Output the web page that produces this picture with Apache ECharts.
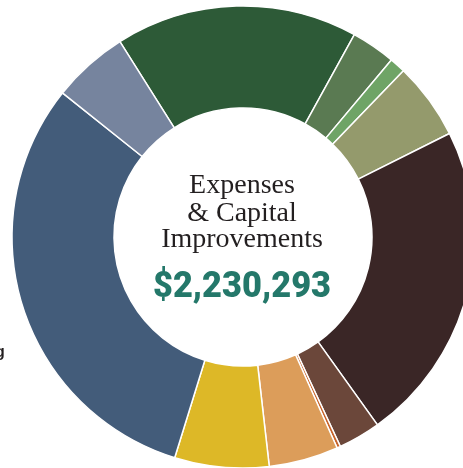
<!DOCTYPE html>
<html>
<head>
<meta charset="utf-8">
<script src="https://cdn.jsdelivr.net/npm/echarts@6/dist/echarts.min.js"></script>
<style>
html,body{margin:0;padding:0;background:#fff;}
#c{width:463px;height:468px;}
</style>
</head>
<body>
<div id="c"></div>
<script>
// Segment names (not legible in the picture) and estimated amounts in dollars
const categories = [
  "Segment 1", "Segment 2", "Segment 3", "Segment 4", "Segment 5", "Segment 6",
  "Segment 7", "Segment 8", "Segment 9", "Segment 10", "Segment 11"
];
const amounts = [378000, 69000, 25000, 120000, 502000, 66000, 5500, 108500, 147000, 690000, 119000];
const colors = ["#2d5a37", "#5a7a52", "#6fa466", "#949a6c", "#3a2626", "#6b473a",
                "#c8642a", "#dc9d5a", "#ddb827", "#435c7a", "#76849e"];
const titleLines = ["Expenses", "& Capital", "Improvements"];
const totalLabel = "$2,230,293";

const chart = echarts.init(document.getElementById('c'), null, {renderer: 'canvas'});
const data = categories.map((n, i) => ({name: n, value: amounts[i], itemStyle: {color: colors[i]}}));
const serif = '28px "Liberation Serif", "DejaVu Serif", serif';

chart.setOption({
  animation: false,
  backgroundColor: '#ffffff',
  series: [{
    type: 'pie',
    center: [243, 237],
    radius: [129, 231],
    startAngle: 122.2,
    clockwise: true,
    avoidLabelOverlap: false,
    label: {show: false},
    labelLine: {show: false},
    emphasis: {disabled: true},
    itemStyle: {borderColor: '#ffffff', borderWidth: 1.5},
    data: data
  }],
  graphic: [
    {type: 'text', x: 242, y: 172, style: {text: titleLines[0], font: serif, fill: '#231f20', align: 'center', verticalAlign: 'top'}},
    {type: 'text', x: 242, y: 199.5, style: {text: titleLines[1], font: serif, fill: '#231f20', align: 'center', verticalAlign: 'top'}},
    {type: 'text', x: 242, y: 226, style: {text: titleLines[2], font: serif, fill: '#231f20', align: 'center', verticalAlign: 'top'}},
    {type: 'text', x: 242, y: 269, scaleX: 0.93, originX: 0, originY: 0,
     style: {text: totalLabel, font: '900 37px "Roboto", "Liberation Sans", sans-serif', fill: '#24786a', align: 'center', verticalAlign: 'top'}},
    {type: 'text', x: -5, y: 345, style: {text: 'g', font: 'bold 16px "Liberation Sans", sans-serif', fill: '#231f20', align: 'left', verticalAlign: 'top'}}
  ]
});
</script>
</body>
</html>
